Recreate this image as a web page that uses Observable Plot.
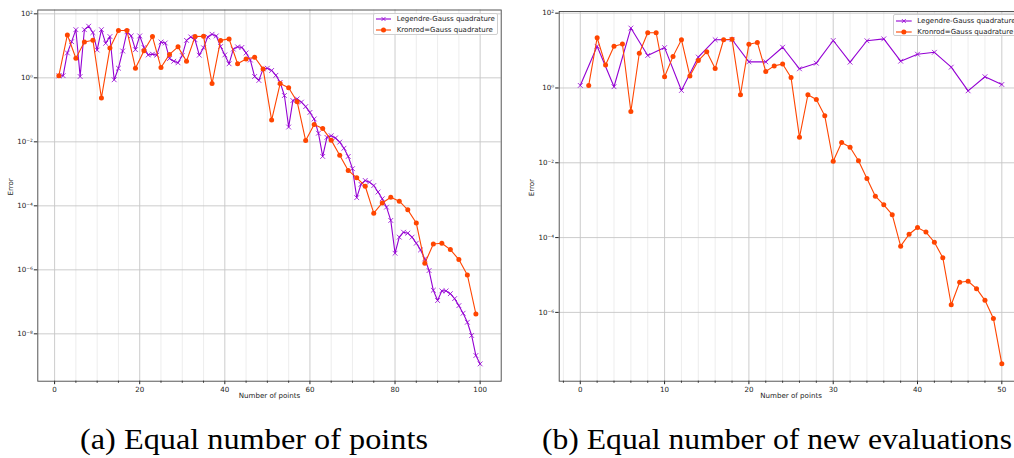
<!DOCTYPE html>
<html><head><meta charset="utf-8">
<script src="https://cdn.jsdelivr.net/npm/d3@7"></script>
<script src="https://cdn.jsdelivr.net/npm/@observablehq/plot@0.6"></script>
<style>
html,body{margin:0;padding:0;background:#fff}
body{width:1014px;height:458px;overflow:hidden;position:relative;font-family:"DejaVu Sans",sans-serif}
.panel{position:absolute;top:0}
.panel svg{max-width:none !important}
.legend{position:absolute;background:rgba(255,255,255,0.85);border:0.8px solid #cfcfcf;border-radius:2px;box-sizing:border-box;font-size:7px;color:#222;font-family:"DejaVu Sans",sans-serif}
.legend .row{position:absolute;left:0;height:10px;white-space:nowrap}
.legend svg{position:absolute;left:2px;top:0}
.legend span{position:absolute;left:23px;top:0;line-height:10px}
.cap{position:absolute;left:0;top:405px}
</style></head><body>
<div id="pa" class="panel" style="left:0;width:505px"></div>
<div id="pb" class="panel" style="left:510px;width:520px"></div>
<div class="legend" id="lega" style="left:372.7px;top:13.3px;width:125.6px;height:21.7px"></div>
<div class="legend" id="legb" style="left:893.3px;top:14.3px;width:130px;height:21.7px"></div>
<svg class="cap" width="1014" height="53">
  <text id="capa" x="254" y="44" text-anchor="middle" font-family="Liberation Serif" font-size="30" textLength="348" lengthAdjust="spacingAndGlyphs" fill="#000"></text>
  <text id="capb" x="777" y="44" text-anchor="middle" font-family="Liberation Serif" font-size="30" textLength="470" lengthAdjust="spacingAndGlyphs" fill="#000"></text>
</svg>
<script>
// ---- Data ----
const seriesNames = ["Legendre-Gauss quadrature", "Kronrod=Gauss quadrature"];
const colors = ["#9400d3", "#ff4500"];
const captions = ["(a) Equal number of points", "(b) Equal number of new evaluations"];
const xLabel = "Number of points";
const yLabel = "Error";

// Panel (a): Legendre-Gauss error for n = 1..100 points
const lgErrorA = [
  1.15, 1.17, 6.0, 13.5, 32, 1.1, 32, 41, 26, 7.4,
  32, 12, 19.5, 0.87, 2.0, 6.9, 27.5, 20.4, 7.6, 20.4,
  8.9, 5.2, 5.5, 5.1, 13.2, 12.3, 4.0, 3.3, 2.95, 5.0,
  14.8, 19, 15.5, 5.1, 8.7, 19, 23, 20.4, 9.5, 5.2,
  2.75, 7.9, 9.3, 8.9, 6.0, 3.6, 1.1, 0.83, 1.9, 2.0,
  1.7, 1.2, 0.72, 0.28, 0.029, 0.195, 0.22, 0.174, 0.126, 0.083,
  0.052, 0.0186, 0.0035, 0.0138, 0.0155, 0.0132, 0.0098, 0.0063, 0.0035, 0.00145,
  1.8e-4, 4.7e-4, 6.2e-4, 5.5e-4, 4.3e-4, 2.7e-4, 1.66e-4, 9.1e-5, 3.5e-5, 3.3e-6,
  1.05e-5, 1.5e-5, 1.4e-5, 1.05e-5, 6.8e-6, 4.2e-6, 2.2e-6, 9.5e-7, 2.3e-7, 1.1e-7,
  2.2e-7, 2.2e-7, 1.8e-7, 1.26e-7, 7.6e-8, 4.4e-8, 2.3e-8, 8.9e-9, 2.1e-9, 1.15e-9
];
const lgPointsA = d3.range(1, 101);

// Kronrod error (50 levels): panel (a) at n = 1,3,...,99 ; panel (b) at 1..50 new evaluations
const krError = [
  1.17, 22, 4.1, 13.1, 15, 0.235, 8.5, 30, 30, 2.0,
  7, 19.5, 2.1, 5.4, 9.3, 3.3, 19.5, 20, 0.66, 14.8,
  16.5, 2.76, 3.9, 4.4, 1.9, 0.048, 0.66, 0.49, 0.18, 0.011,
  0.035, 0.026, 0.0113, 0.0038, 0.00128, 7.5e-4, 4.1e-4, 5.9e-5, 1.23e-4, 1.86e-4,
  1.4e-4, 7.5e-5, 2.9e-5, 1.6e-6, 6.4e-6, 6.8e-6, 4.3e-6, 2.1e-6, 6.9e-7, 4.2e-8
];
const krPointsA = d3.range(1, 100, 2);
const krEvalsB = d3.range(1, 51);

// Panel (b): Legendre-Gauss error at 0,2,...,50 new evaluations
const lgErrorB = [
  1.17, 13, 1.08, 40, 7.4, 12, 0.86, 6.7, 19.5, 19.8,
  5, 5, 12.3, 3.26, 4.6, 18.6, 4.9, 18.3, 20.6, 5.2,
  8, 9, 3.6, 0.84, 2.0, 1.24
];
const lgEvalsB = d3.range(0, 51, 2);

// Tick values
const xMajorA = [0, 20, 40, 60, 80, 100];
const xMinorA = [5, 10, 15, 25, 30, 35, 45, 50, 55, 65, 70, 75, 85, 90, 95];
const xMajorB = [0, 10, 20, 30, 40, 50];
const xMinorB = [-2, 2, 4, 6, 8, 12, 14, 16, 18, 22, 24, 26, 28, 32, 34, 36, 38, 42, 44, 46, 48, 52];
const yTicksA = [1e2, 1e0, 1e-2, 1e-4, 1e-6, 1e-8];
const yTicksB = [1e2, 1e0, 1e-2, 1e-4, 1e-6];

// ---- Drawing ----
const sup = {"0":"⁰","1":"¹","2":"²","3":"³","4":"⁴","5":"⁵","6":"⁶","7":"⁷","8":"⁸","9":"⁹","-":"⁻"};
const fmtPow = d => "10" + String(Math.round(Math.log10(d))).replace(/[-0-9]/g, c => sup[c]);

function panel({width, height, margins, xDomain, yDomain, xMajor, xMinor, yTicks, lgX, lgY, krX, krY}) {
  const lg = lgX.map((x, i) => ({x, y: lgY[i]}));
  const kr = krX.map((x, i) => ({x, y: krY[i]}));
  return Plot.plot({
    width, height,
    marginLeft: margins[0], marginRight: margins[1], marginTop: margins[2], marginBottom: margins[3],
    style: {fontFamily: "DejaVu Sans", fontSize: "7.1px", color: "#222", background: "transparent", maxWidth: "none"},
    x: {domain: xDomain},
    y: {type: "log", domain: yDomain},
    marks: [
      Plot.ruleX(xMinor, {stroke: "#ebebeb", strokeWidth: 0.9}),
      Plot.ruleX(xMajor, {stroke: "#c6c6c6", strokeWidth: 0.9}),
      Plot.ruleY(yTicks, {stroke: "#c6c6c6", strokeWidth: 0.9}),
      Plot.axisX(xMinor, {tickSize: 2, tickFormat: () => "", label: null}),
      Plot.axisX(xMajor, {tickSize: 3.5, tickPadding: 2, label: null}),
      Plot.axisY(yTicks, {tickSize: 3.5, tickPadding: 1.5, tickFormat: fmtPow, label: null}),
      Plot.text([xLabel], {frameAnchor: "bottom", dy: 17, text: d => d, fontSize: 7.1}),
      Plot.text([yLabel], {frameAnchor: "left", dx: -27, rotate: -90, text: d => d, fontSize: 7.1}),
      Plot.line(lg, {x: "x", y: "y", stroke: colors[0], strokeWidth: 1.1}),
      Plot.dot(lg, {x: "x", y: "y", symbol: "times", r: 2.3, stroke: colors[0], strokeWidth: 0.8}),
      Plot.line(kr, {x: "x", y: "y", stroke: colors[1], strokeWidth: 1.1}),
      Plot.dot(kr, {x: "x", y: "y", r: 2.5, fill: colors[1], stroke: "none"}),
      Plot.frame({stroke: "#444", strokeWidth: 0.9})
    ]
  });
}

document.getElementById("pa").append(panel({
  width: 505, height: 410, margins: [37.3, 4.3, 9.5, 29.3],
  xDomain: [-3.95, 104.95], yDomain: [Math.pow(10, -9.48), Math.pow(10, 2.12)],
  xMajor: xMajorA, xMinor: xMinorA, yTicks: yTicksA,
  lgX: lgPointsA, lgY: lgErrorA, krX: krPointsA, krY: krError
}));
document.getElementById("pb").append(panel({
  width: 520, height: 410, margins: [48.7, 7.6, 11, 29.3],
  xDomain: [-2.5, 52.5], yDomain: [Math.pow(10, -7.84), Math.pow(10, 2.045)],
  xMajor: xMajorB, xMinor: xMinorB, yTicks: yTicksB,
  lgX: lgEvalsB, lgY: lgErrorB, krX: krEvalsB, krY: krError
}));

function legend(el, sampleW, rowTops) {
  seriesNames.forEach((name, i) => {
    const row = document.createElement("div");
    row.className = "row";
    row.style.top = rowTops[i] + "px";
    row.style.width = "100%";
    const c = colors[i];
    const mid = sampleW / 2;
    const marker = i === 0
      ? `<path d="M${mid-2},3 L${mid+2},7 M${mid-2},7 L${mid+2},3" stroke="${c}" stroke-width="0.8"/>`
      : `<circle cx="${mid}" cy="5" r="2.5" fill="${c}"/>`;
    row.innerHTML = `<svg width="${sampleW}" height="10"><line x1="0" x2="${sampleW}" y1="5" y2="5" stroke="${c}" stroke-width="1.1"/>${marker}</svg><span>${name}</span>`;
    el.append(row);
  });
}
legend(document.getElementById("lega"), 15, [0, 10.7]);
legend(document.getElementById("legb"), 15.7, [0.7, 11.7]);

document.getElementById("capa").textContent = captions[0];
document.getElementById("capb").textContent = captions[1];
</script>
</body></html>
